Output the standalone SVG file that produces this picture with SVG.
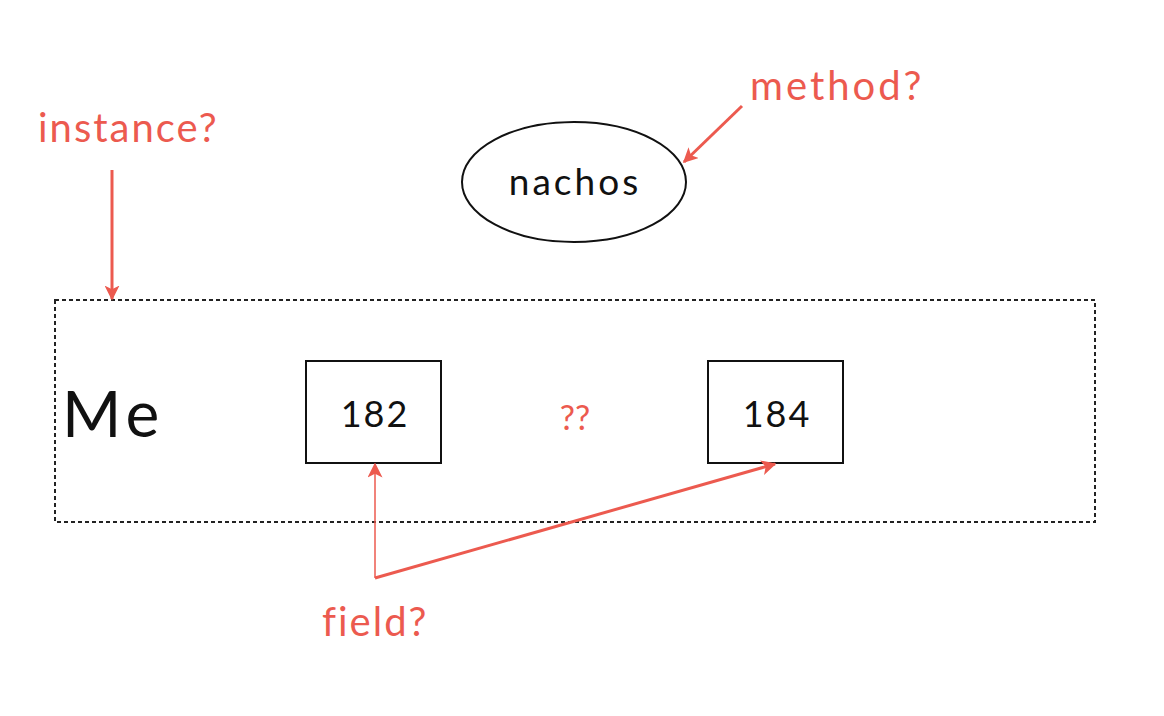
<svg xmlns="http://www.w3.org/2000/svg" width="1164" height="716" viewBox="0 0 1164 716">
<defs>
<style>
.red{fill:#ec5a4f;font-family:Lato,"Open Sans",sans-serif;}
.blk{fill:#111;font-family:Lato,"Open Sans",sans-serif;}
.conn{stroke:#ec5a4f;fill:none;}
</style>
<marker id="ah" viewBox="0 0 10 10" refX="9" refY="5" markerWidth="5" markerHeight="5" markerUnits="strokeWidth" orient="auto">
<path d="M0,0 L10,5 L0,10 L2.5,5 z" fill="#ec5a4f"/>
</marker>
<marker id="ah2" viewBox="0 0 10 10" refX="9" refY="5" markerWidth="10" markerHeight="10" markerUnits="strokeWidth" orient="auto">
<path d="M0,0 L10,5 L0,10 L2.5,5 z" fill="#ec5a4f"/>
</marker>
</defs>
<rect width="1164" height="716" fill="#fff"/>
<g id="instance-box">
<rect x="55" y="300" width="1040" height="222" fill="none" stroke="#222" stroke-width="2" stroke-dasharray="4,3"/>
<text class="blk" x="62" y="437" font-size="64" letter-spacing="5">Me</text>
</g>
<g id="nachos">
<ellipse cx="574" cy="182" rx="112" ry="60" fill="none" stroke="#111" stroke-width="2"/>
<text class="blk" x="575" y="195" font-size="37" letter-spacing="3" text-anchor="middle">nachos</text>
</g>
<g id="field182">
<rect x="306" y="361" width="135" height="102" fill="none" stroke="#111" stroke-width="2"/>
<text class="blk" x="375" y="427" font-size="36" letter-spacing="2" text-anchor="middle">182</text>
</g>
<g id="field184">
<rect x="708" y="361" width="135" height="102" fill="none" stroke="#111" stroke-width="2"/>
<text class="blk" x="777" y="427" font-size="36" letter-spacing="2" text-anchor="middle">184</text>
</g>
<g id="labels">
<text class="red" x="38" y="142" font-size="40" letter-spacing="2">instance?</text>
<text class="red" x="750" y="100" font-size="40" letter-spacing="3">method?</text>
<text class="red" x="322" y="636" font-size="40" letter-spacing="2">field?</text>
<text class="red" x="575" y="430" font-size="34" text-anchor="middle">??</text>
</g>
<g id="connectors">
<line class="conn" x1="112" y1="170" x2="112" y2="299" stroke-width="3" marker-end="url(#ah)"/>
<line class="conn" x1="742" y1="106" x2="684" y2="162" stroke-width="3" marker-end="url(#ah)"/>
<polyline class="conn" points="375,578 375,464" stroke-width="1.5" marker-end="url(#ah2)"/>
<polyline class="conn" points="375,578 775,464" stroke-width="3" marker-end="url(#ah)"/>
</g>
</svg>
